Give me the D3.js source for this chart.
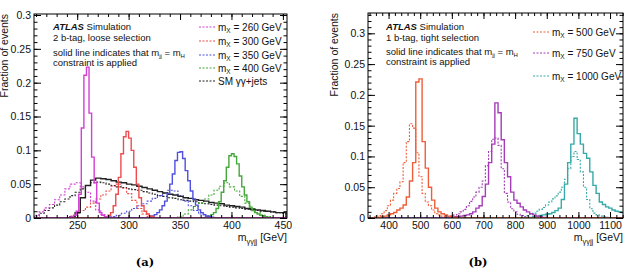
<!DOCTYPE html>
<html lang="en">
<head>
<meta charset="UTF-8">
<title>m_yyjj distributions</title>
<script src="https://d3js.org/d3.v7.min.js"></script>
<style>
  body { margin: 0; background: #fff; }
  svg { font-family: "Liberation Sans", Arial, sans-serif; }
</style>
</head>
<body>
<svg id="fig" width="628" height="270"></svg>
<script>
// ---- panel (a): 2 b-tag, loose selection ----
// solid = with m_jj = m_H constraint, dotted = without
const sig260Solid = [0.002, 0.004, 0.01, 0.035, 0.133, 0.211, 0.223, 0.155, 0.09, 0.052, 0.022, 0.008, 0.004, 0.002, 0.001];
const sig260SolidStart = 244, sig260SolidWidth = 2.5;
const sig260Dot = [0.004, 0.009, 0.015, 0.02, 0.027, 0.034, 0.043, 0.05, 0.052, 0.046, 0.038, 0.025, 0.012, 0.005, 0.002, 0.001];
const sig260DotStart = 208, sig260DotWidth = 5;

const sig300Solid = [0.004, 0.008, 0.018, 0.035, 0.06, 0.095, 0.12, 0.128, 0.118, 0.1, 0.075, 0.05, 0.03, 0.018, 0.01, 0.006, 0.003, 0.002];
const sig300SolidStart = 280, sig300SolidWidth = 2.5;
const sig300Dot = [0.003, 0.007, 0.011, 0.016, 0.022, 0.028, 0.034, 0.04, 0.047, 0.05, 0.044, 0.036, 0.026, 0.014, 0.006, 0.002];
const sig300DotStart = 243, sig300DotWidth = 5;

const sig350Solid = [0.003, 0.005, 0.008, 0.012, 0.018, 0.025, 0.036, 0.05, 0.065, 0.085, 0.097, 0.098, 0.088, 0.07, 0.055, 0.04, 0.028, 0.019, 0.012, 0.008, 0.005, 0.003, 0.002, 0.001];
const sig350SolidStart = 322.5, sig350SolidWidth = 2.5;
const sig350Dot = [0.002, 0.004, 0.007, 0.01, 0.014, 0.018, 0.021, 0.025, 0.029, 0.033, 0.037, 0.041, 0.04, 0.033, 0.025, 0.018, 0.011, 0.006, 0.003, 0.001];
const sig350DotStart = 283, sig350DotWidth = 5;

const sig400Solid = [0.002, 0.003, 0.005, 0.008, 0.014, 0.024, 0.038, 0.055, 0.075, 0.092, 0.095, 0.091, 0.08, 0.062, 0.046, 0.034, 0.024, 0.016, 0.011, 0.008, 0.006, 0.004, 0.003, 0.002, 0.001];
const sig400SolidStart = 375, sig400SolidWidth = 2.5;
const sig400Dot = [0.002, 0.006, 0.012, 0.017, 0.022, 0.028, 0.034, 0.041, 0.047, 0.052, 0.046, 0.04, 0.032, 0.022, 0.014, 0.008, 0.004, 0.002];
const sig400DotStart = 348, sig400DotWidth = 5;

const smSolid = [0.002, 0.008, 0.03, 0.048, 0.056, 0.059, 0.058, 0.057, 0.055, 0.053, 0.052, 0.05, 0.049, 0.047, 0.045, 0.043, 0.041, 0.039, 0.037, 0.035, 0.034, 0.032, 0.03, 0.029, 0.027, 0.026, 0.025, 0.023, 0.022, 0.021, 0.019, 0.018, 0.017, 0.016, 0.014, 0.013, 0.012, 0.011, 0.01, 0.009, 0.008, 0.008];
const smSolidStart = 243, smSolidWidth = 5;
const smDot = [0.003, 0.007, 0.011, 0.015, 0.019, 0.024, 0.028, 0.033, 0.038, 0.043, 0.048, 0.052, 0.053, 0.052, 0.05, 0.048, 0.046, 0.045, 0.043, 0.042, 0.041, 0.039, 0.037, 0.035, 0.033, 0.032, 0.03, 0.029, 0.027, 0.026, 0.025, 0.024, 0.022, 0.021, 0.02, 0.019, 0.018, 0.017, 0.016, 0.015, 0.014, 0.013, 0.012, 0.011, 0.01, 0.01, 0.009, 0.008, 0.007];
const smDotStart = 208, smDotWidth = 5;

const xTicksA = [250, 300, 350, 400, 450];
const yTicksA = [0, 0.05, 0.1, 0.15, 0.2, 0.25, 0.3];

// ---- panel (b): 1 b-tag, tight selection ----
const sig500Solid = [0.001, 0.002, 0.003, 0.005, 0.007, 0.009, 0.013, 0.016, 0.021, 0.034, 0.06, 0.09, 0.221, 0.226, 0.124, 0.081, 0.05, 0.029, 0.016, 0.01, 0.007, 0.005, 0.003, 0.002, 0.001];
const sig500SolidStart = 366, binB = 10;
const sig500Dot = [0.002, 0.004, 0.007, 0.012, 0.02, 0.029, 0.04, 0.048, 0.059, 0.09, 0.124, 0.153, 0.146, 0.106, 0.067, 0.04, 0.026, 0.02, 0.013, 0.007, 0.005, 0.003, 0.002, 0.001];
const sig500DotStart = 356;

const sig750Solid = [0.001, 0.002, 0.002, 0.003, 0.004, 0.005, 0.007, 0.01, 0.016, 0.02, 0.035, 0.055, 0.09, 0.12, 0.187, 0.171, 0.127, 0.09, 0.067, 0.042, 0.029, 0.024, 0.018, 0.013, 0.01, 0.007, 0.005, 0.003, 0.002, 0.001];
const sig750SolidStart = 596;
const sig750Dot = [0.002, 0.003, 0.005, 0.007, 0.01, 0.014, 0.02, 0.027, 0.034, 0.042, 0.05, 0.06, 0.085, 0.108, 0.128, 0.13, 0.118, 0.08, 0.04, 0.026, 0.015, 0.01, 0.006, 0.004, 0.002, 0.001];
const sig750DotStart = 586;

const sig1000Solid = [0.001, 0.002, 0.003, 0.004, 0.005, 0.006, 0.007, 0.009, 0.012, 0.016, 0.03, 0.055, 0.09, 0.12, 0.162, 0.137, 0.12, 0.105, 0.097, 0.075, 0.053, 0.04, 0.026, 0.022, 0.018, 0.016, 0.013, 0.011, 0.01, 0.009];
const sig1000SolidStart = 846;
const sig1000Dot = [0.002, 0.004, 0.006, 0.008, 0.011, 0.014, 0.017, 0.021, 0.026, 0.031, 0.036, 0.042, 0.05, 0.063, 0.08, 0.1, 0.108, 0.095, 0.075, 0.05, 0.03, 0.015, 0.008, 0.005, 0.003, 0.002, 0.001];
const sig1000DotStart = 826;

const xTicksB = [400, 500, 600, 700, 800, 900, 1000, 1100];
const yTicksB = [0, 0.05, 0.1, 0.15, 0.2, 0.25, 0.3];

const magenta = "#d43fd4", red = "#ee4c4c", blue = "#5050e0", green = "#45a83a", black = "#222";
const orange = "#ef5e38", purple = "#a63cb8", teal = "#35aaa8";

const svg = d3.select("#fig");
const fmt = d => d === 0 ? "0" : String(+d.toFixed(2));

function drawPanel(p) {
  const g = svg.append("g");
  const x = d3.scaleLinear().domain(p.xDomain).range(p.xRange);
  const y = d3.scaleLinear().domain(p.yDomain).range(p.yRange);
  const [x0, x1] = p.xRange, [y0, y1] = p.yRange;

  const clipId = "clip" + p.id;
  svg.append("clipPath").attr("id", clipId).append("rect")
     .attr("x", x0).attr("y", y1).attr("width", x1 - x0).attr("height", y0 - y1);

  const line = d3.line().curve(d3.curveStepAfter).x(d => x(d[0])).y(d => y(d[1]));
  const plot = g.append("g").attr("clip-path", `url(#${clipId})`);
  p.series.forEach(s => {
    const pts = [[p.xDomain[0], 0]];
    s.vals.forEach((v, i) => pts.push([s.start + i * s.width, v]));
    pts.push([s.start + s.vals.length * s.width, 0]);
    pts.push([p.xDomain[1], 0]);
    plot.append("path")
        .attr("fill", "none")
        .attr("stroke", s.color)
        .attr("stroke-width", s.dashed ? 1.1 : 1.4)
        .attr("stroke-dasharray", s.dashed ? "2,1.5" : null)
        .attr("d", line(pts));
  });

  // axes: ticks pointing inward on all four sides
  const minorX = d3.range(Math.ceil(p.xDomain[0] / p.xMinor) * p.xMinor, p.xDomain[1], p.xMinor);
  const minorY = d3.range(0, p.yDomain[1], 0.01);

  function styleAxis(sel) {
    sel.select(".domain").remove();
    sel.selectAll("line").attr("stroke", "#000");
    sel.selectAll("text").attr("font-family", '"Liberation Sans", Arial, sans-serif')
       .attr("font-size", 10.5).attr("fill", "#111");
  }

  g.append("g").attr("transform", `translate(0,${y0})`)
   .call(d3.axisBottom(x).tickValues(p.xTicks).tickSize(-6).tickPadding(4).tickFormat(d3.format("d")))
   .call(styleAxis);
  g.append("g").attr("transform", `translate(0,${y0})`)
   .call(d3.axisBottom(x).tickValues(minorX).tickSize(-3).tickFormat(""))
   .call(styleAxis);
  g.append("g").attr("transform", `translate(0,${y1})`)
   .call(d3.axisTop(x).tickValues(p.xTicks).tickSize(-6).tickFormat(""))
   .call(styleAxis);
  g.append("g").attr("transform", `translate(0,${y1})`)
   .call(d3.axisTop(x).tickValues(minorX).tickSize(-3).tickFormat(""))
   .call(styleAxis);

  g.append("g").attr("transform", `translate(${x0},0)`)
   .call(d3.axisLeft(y).tickValues(p.yTicks).tickSize(-7).tickPadding(3).tickFormat(fmt))
   .call(styleAxis);
  g.append("g").attr("transform", `translate(${x0},0)`)
   .call(d3.axisLeft(y).tickValues(minorY).tickSize(-3.5).tickFormat(""))
   .call(styleAxis);
  g.append("g").attr("transform", `translate(${x1},0)`)
   .call(d3.axisRight(y).tickValues(p.yTicks).tickSize(-7).tickFormat(""))
   .call(styleAxis);
  g.append("g").attr("transform", `translate(${x1},0)`)
   .call(d3.axisRight(y).tickValues(minorY).tickSize(-3.5).tickFormat(""))
   .call(styleAxis);

  g.append("rect").attr("x", x0).attr("y", y1).attr("width", x1 - x0).attr("height", y0 - y1)
   .attr("fill", "none").attr("stroke", "#000").attr("stroke-width", 1);

  // axis titles
  g.append("text").attr("transform", `translate(${p.yTitleX},${y1}) rotate(-90)`)
   .attr("text-anchor", "end").attr("font-size", 10.5).attr("fill", "#111")
   .text("Fraction of events");
  const xt = g.append("text").attr("x", x1).attr("y", 241).attr("text-anchor", "end")
   .attr("font-size", 10.5).attr("fill", "#111");
  xt.append("tspan").text("m");
  xt.append("tspan").attr("font-size", 7.5).attr("dy", 2.5).text("γγjj");
  xt.append("tspan").attr("dy", -2.5).text(" [GeV]");

  // caption
  g.append("text").attr("x", p.capX).attr("y", 266).attr("text-anchor", "middle")
   .attr("font-family", '"DejaVu Serif", "Liberation Serif", serif').attr("font-weight", "bold")
   .attr("font-size", 11.5).text(p.caption);

  // text block
  const tx = p.textX;
  const t1 = g.append("text").attr("x", tx).attr("y", 30).attr("font-size", 9.5).attr("fill", "#111");
  t1.append("tspan").attr("font-weight", "bold").attr("font-style", "italic").text("ATLAS");
  t1.append("tspan").text(" Simulation");
  g.append("text").attr("x", tx).attr("y", 41).attr("font-size", 9.5).attr("fill", "#111").text(p.selection);
  const t3 = g.append("text").attr("x", tx).attr("y", p.solidY).attr("font-size", 9.5).attr("fill", "#111");
  t3.append("tspan").text("solid line indicates that m");
  t3.append("tspan").attr("font-size", 6).attr("dy", 1.5).text("jj");
  t3.append("tspan").attr("dy", -1.5).text(" = m");
  t3.append("tspan").attr("font-size", 6).attr("dy", 1.5).text("H");
  g.append("text").attr("x", tx).attr("y", p.solidY + 9.5).attr("font-size", 9.5).attr("fill", "#111")
   .text("constraint is applied");

  // legend
  p.legend.forEach(L => {
    g.append("line").attr("x1", p.legX).attr("x2", p.legX + 16).attr("y1", L.y).attr("y2", L.y)
     .attr("stroke", L.color).attr("stroke-width", 1.1).attr("stroke-dasharray", "2,1.5");
    const t = g.append("text").attr("x", p.legX + 19).attr("y", L.y + 3.5)
     .attr("font-size", 10).attr("fill", "#111");
    if (L.mx) {
      t.append("tspan").text("m");
      t.append("tspan").attr("font-size", 6.5).attr("dy", 2).text("X");
      t.append("tspan").attr("dy", -2).text(` = ${L.mx} GeV`);
    } else {
      t.text(L.label);
    }
  });
}

drawPanel({
  id: "a",
  xDomain: [208, 454], xRange: [34, 287],
  yDomain: [0, 0.3015], yRange: [218, 14],
  xTicks: xTicksA, yTicks: yTicksA, xMinor: 10,
  yTitleX: 8, capX: 145, caption: "(a)",
  textX: 53, selection: "2 b-tag, loose selection", solidY: 56,
  legX: 199,
  legend: [
    { y: 27, color: magenta, mx: 260 },
    { y: 41, color: red, mx: 300 },
    { y: 55, color: blue, mx: 350 },
    { y: 68, color: green, mx: 400 },
    { y: 81, color: black, label: "SM γγ+jets" }
  ],
  series: [
    { vals: smDot, start: smDotStart, width: smDotWidth, color: black, dashed: true },
    { vals: sig260Dot, start: sig260DotStart, width: sig260DotWidth, color: magenta, dashed: true },
    { vals: sig300Dot, start: sig300DotStart, width: sig300DotWidth, color: red, dashed: true },
    { vals: sig350Dot, start: sig350DotStart, width: sig350DotWidth, color: blue, dashed: true },
    { vals: sig400Dot, start: sig400DotStart, width: sig400DotWidth, color: green, dashed: true },
    { vals: smSolid, start: smSolidStart, width: smSolidWidth, color: black },
    { vals: sig400Solid, start: sig400SolidStart, width: sig400SolidWidth, color: green },
    { vals: sig350Solid, start: sig350SolidStart, width: sig350SolidWidth, color: blue },
    { vals: sig300Solid, start: sig300SolidStart, width: sig300SolidWidth, color: red },
    { vals: sig260Solid, start: sig260SolidStart, width: sig260SolidWidth, color: magenta }
  ]
});

drawPanel({
  id: "b",
  xDomain: [335, 1141], xRange: [368, 623],
  yDomain: [0, 0.333], yRange: [218, 13],
  xTicks: xTicksB, yTicks: yTicksB, xMinor: 20,
  yTitleX: 338, capX: 478, caption: "(b)",
  textX: 386, selection: "1 b-tag, tight selection", solidY: 55,
  legX: 533,
  legend: [
    { y: 32, color: orange, mx: 500 },
    { y: 53, color: purple, mx: 750 },
    { y: 76, color: teal, mx: 1000 }
  ],
  series: [
    { vals: sig1000Dot, start: sig1000DotStart, width: binB, color: teal, dashed: true },
    { vals: sig750Dot, start: sig750DotStart, width: binB, color: purple, dashed: true },
    { vals: sig500Dot, start: sig500DotStart, width: binB, color: orange, dashed: true },
    { vals: sig1000Solid, start: sig1000SolidStart, width: binB, color: teal },
    { vals: sig750Solid, start: sig750SolidStart, width: binB, color: purple },
    { vals: sig500Solid, start: sig500SolidStart, width: binB, color: orange }
  ]
});
</script>
</body>
</html>
